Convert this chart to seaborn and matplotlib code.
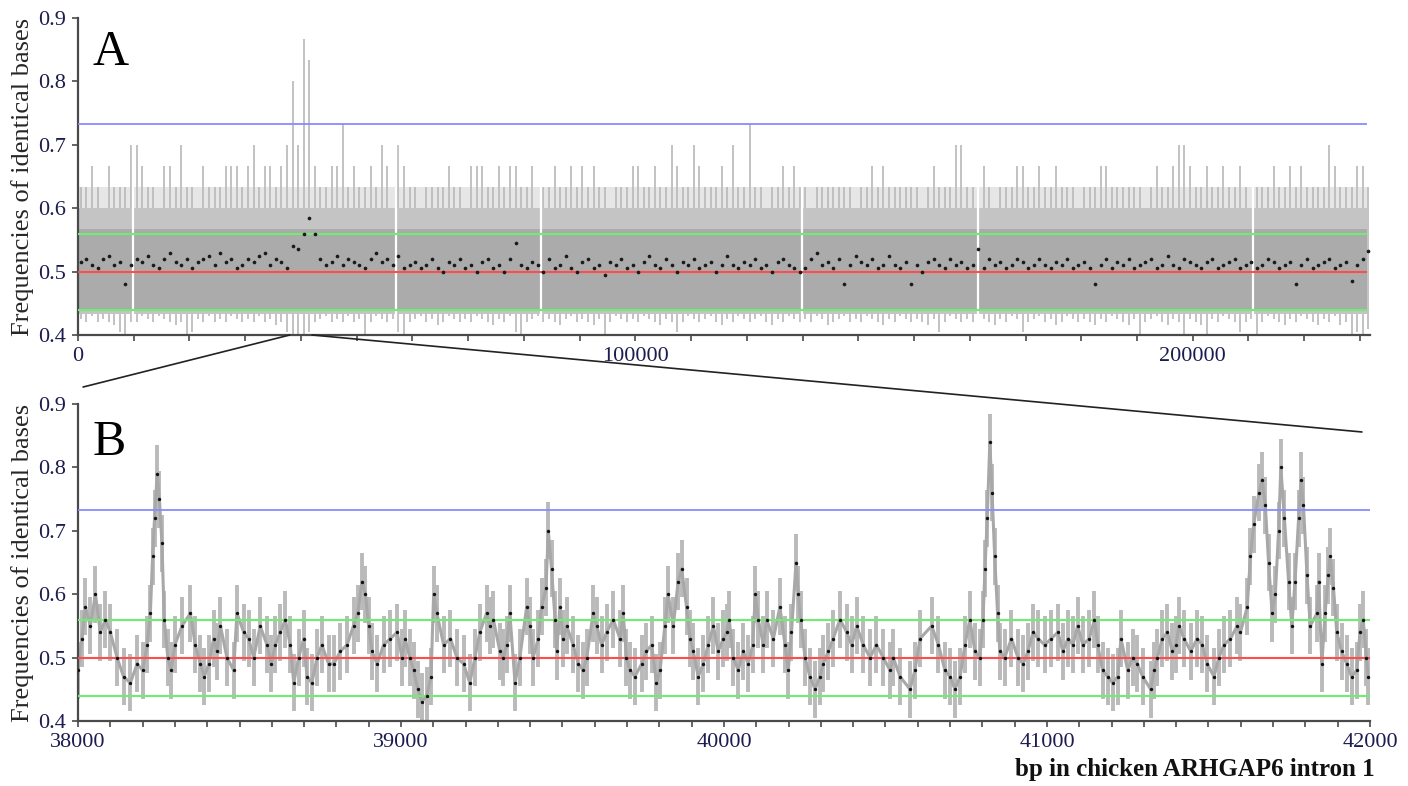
#!/usr/bin/env python3
"""
Frequencies of identical bases along chicken ARHGAP6 intron 1.
Panel A: whole intron in 1 kb bins, panel B: zoom on 38000-42000 bp.
"""

import numpy as np
import matplotlib
matplotlib.use("Agg")
import matplotlib.pyplot as plt
import matplotlib.ticker as mtick
from matplotlib.patches import ConnectionPatch
import seaborn as sns

# ---------------- data ----------------
# reference levels
ref_mean = 0.5
ref_band = [0.44, 0.56]
ref_high = 0.733

# panel A: 1000 bp bins starting at 0
a_start = 0
a_step = 1000
# highest window in each bin, in 30ths
a_hi30 = [19, 19, 20, 19, 18, 20, 19, 19, 19, 21,
          21, 20, 19, 19, 18, 20, 20, 19, 21, 19,
          19, 18, 20, 19, 19, 19, 20, 20, 20, 19,
          20, 21, 19, 20, 20, 19, 20, 21, 24, 21,
          26, 25, 20, 19, 19, 20, 20, 22, 19, 20,
          19, 19, 20, 19, 21, 20, 18, 21, 20, 19,
          19, 18, 19, 19, 19, 19, 20, 19, 19, 18,
          20, 20, 20, 19, 19, 20, 19, 20, 20, 19,
          19, 20, 18, 19, 19, 20, 19, 19, 20, 19,
          20, 19, 20, 19, 19, 18, 19, 19, 19, 20,
          20, 19, 19, 20, 19, 19, 21, 20, 19, 19,
          21, 20, 19, 19, 19, 20, 19, 21, 19, 19,
          22, 19, 19, 18, 19, 19, 20, 19, 20, 19,
          19, 18, 19, 19, 19, 19, 19, 19, 19, 18,
          19, 19, 20, 19, 20, 19, 19, 19, 19, 19,
          19, 18, 19, 20, 19, 19, 19, 21, 21, 19,
          19, 19, 20, 19, 18, 19, 19, 19, 20, 20,
          19, 19, 20, 19, 19, 20, 19, 19, 19, 18,
          19, 19, 19, 20, 20, 19, 19, 19, 19, 19,
          19, 18, 19, 20, 19, 19, 20, 21, 21, 20,
          19, 19, 20, 19, 19, 20, 19, 19, 20, 19,
          18, 19, 19, 19, 20, 19, 19, 20, 19, 20,
          19, 19, 19, 19, 21, 20, 19, 19, 19, 20,
          20, 19]
# lowest window in each bin
a_lo = [.425, .42, .43, .42, .425, .42, .415, .405, .40, .42,
        .42, .43, .425, .42, .43, .425, .42, .415, .42, .40,
        .405, .425, .42, .43, .42, .425, .42, .43, .425, .42,
        .425, .42, .43, .42, .425, .415, .42, .405, .40, .40,
        .40, .405, .42, .425, .43, .42, .425, .42, .43, .42,
        .425, .40, .42, .43, .425, .42, .425, .405, .40, .42,
        .425, .43, .42, .425, .415, .42, .43, .425, .42, .425,
        .42, .43, .425, .42, .415, .425, .42, .43, .405, .40,
        .42, .425, .43, .42, .425, .42, .415, .425, .43, .42,
        .425, .42, .415, .425, .40, .42, .43, .425, .42, .425,
        .42, .43, .425, .42, .415, .425, .42, .405, .42, .43,
        .425, .42, .425, .43, .42, .415, .425, .42, .43, .425,
        .42, .425, .43, .42, .415, .425, .42, .43, .425, .42,
        .425, .42, .43, .425, .415, .42, .425, .43, .42, .425,
        .42, .43, .425, .42, .415, .425, .42, .43, .425, .42,
        .425, .42, .415, .425, .405, .42, .43, .425, .42, .425,
        .42, .43, .425, .42, .415, .425, .42, .43, .425, .405,
        .42, .425, .43, .42, .425, .415, .42, .43, .425, .42,
        .425, .42, .415, .425, .42, .43, .425, .42, .415, .425,
        .40, .42, .425, .43, .42, .415, .425, .42, .40, .425,
        .42, .415, .40, .425, .42, .43, .425, .42, .405, .42,
        .425, .40, .42, .43, .425, .42, .415, .425, .42, .43,
        .425, .42, .415, .425, .42, .43, .415, .42, .40, .405,
        .40, .41]
# mean frequency per bin (black dots)
a_mean = [.515, .52, .51, .505, .52, .525, .51, .515, .48, .51,
          .52, .515, .525, .51, .505, .52, .53, .515, .51, .52,
          .505, .515, .52, .525, .51, .53, .515, .52, .505, .51,
          .52, .515, .525, .53, .51, .52, .515, .505, .54, .535,
          .56, .585, .56, .52, .51, .515, .525, .51, .52, .515,
          .51, .505, .52, .53, .515, .52, .51, .525, .505, .51,
          .515, .505, .51, .52, .505, .50, .515, .51, .52, .505,
          .51, .50, .515, .52, .505, .51, .50, .52, .545, .51,
          .505, .515, .51, .50, .52, .505, .51, .525, .505, .50,
          .515, .52, .505, .51, .495, .515, .51, .52, .505, .51,
          .50, .515, .525, .51, .505, .52, .51, .50, .515, .51,
          .52, .505, .51, .515, .50, .51, .525, .51, .505, .515,
          .51, .52, .505, .51, .50, .515, .52, .51, .505, .50,
          .505, .52, .53, .51, .515, .505, .52, .48, .51, .525,
          .515, .51, .52, .505, .51, .525, .51, .505, .515, .48,
          .51, .50, .515, .52, .51, .505, .52, .51, .515, .505,
          .51, .535, .505, .52, .51, .515, .505, .51, .52, .515,
          .505, .51, .52, .51, .505, .515, .51, .52, .505, .51,
          .515, .505, .48, .51, .52, .505, .515, .51, .52, .505,
          .51, .515, .52, .505, .51, .525, .51, .505, .52, .515,
          .51, .505, .515, .52, .505, .51, .515, .52, .505, .51,
          .515, .505, .51, .52, .515, .505, .51, .515, .48, .51,
          .52, .505, .51, .515, .52, .505, .51, .515, .485, .51,
          .52, .533]
# gaps without data (white stripes)
a_gaps = [9800, 57100, 83000, 129900, 161500, 210800]
# grey density levels of the overlapping windows
a_dense = [0.433, 0.60]
a_core = [0.44, 0.567]
a_light = [0.60, 0.633]
a_end = 231300

# panel B: windows between 38000 and 42000 bp
b_pos = [38000, 38012, 38023, 38038, 38054, 38069, 38085, 38100, 38121, 38141,
         38162, 38183, 38200, 38214, 38224, 38231, 38237, 38245, 38252, 38260,
         38267, 38278, 38288, 38300, 38322, 38348, 38363, 38379, 38391, 38405,
         38420, 38430, 38441, 38461, 38482, 38492, 38513, 38528, 38544, 38564,
         38585, 38598, 38611, 38626, 38642, 38657, 38668, 38683, 38699, 38709,
         38724, 38740, 38755, 38776, 38792, 38812, 38833, 38853, 38866, 38879,
         38890, 38900, 38910, 38926, 38946, 38967, 38988, 39003, 39013, 39027,
         39039, 39052, 39065, 39080, 39093, 39101, 39111, 39132, 39153, 39173,
         39194, 39213, 39229, 39244, 39265, 39275, 39286, 39306, 39317, 39327,
         39337, 39353, 39368, 39389, 39399, 39409, 39425, 39435, 39449, 39456,
         39466, 39477, 39482, 39492, 39502, 39513, 39533, 39549, 39564, 39575,
         39595, 39606, 39621, 39637, 39657, 39678, 39688, 39698, 39709, 39724,
         39745, 39760, 39776, 39791, 39802, 39817, 39827, 39843, 39858, 39869,
         39884, 39895, 39905, 39920, 39936, 39951, 39967, 39982, 39998, 40008,
         40016, 40029, 40044, 40060, 40075, 40089, 40097, 40106, 40122, 40132,
         40153, 40173, 40189, 40199, 40209, 40223, 40230, 40237, 40251, 40266,
         40282, 40297, 40307, 40323, 40338, 40359, 40380, 40395, 40411, 40431,
         40452, 40472, 40493, 40514, 40524, 40545, 40576, 40591, 40607, 40643,
         40664, 40684, 40700, 40715, 40731, 40746, 40761, 40777, 40792, 40802,
         40808, 40815, 40823, 40830, 40838, 40847, 40854, 40869, 40890, 40910,
         40926, 40941, 40957, 40972, 40993, 41013, 41034, 41049, 41065, 41080,
         41095, 41111, 41131, 41147, 41157, 41172, 41188, 41203, 41219, 41229,
         41250, 41265, 41280, 41296, 41321, 41332, 41342, 41357, 41373, 41388,
         41399, 41409, 41424, 41445, 41465, 41481, 41496, 41517, 41532, 41548,
         41568, 41589, 41599, 41620, 41630, 41640, 41656, 41666, 41676, 41686,
         41697, 41707, 41717, 41724, 41735, 41748, 41758, 41768, 41779, 41787,
         41794, 41805, 41815, 41836, 41841, 41851, 41861, 41871, 41876, 41887,
         41897, 41912, 41928, 41943, 41959, 41969, 41979, 41989, 41994]
b_val = [.48, .53, .58, .55, .60, .54, .56, .54, .50, .47,
         .46, .49, .48, .52, .57, .66, .72, .79, .75, .68,
         .56, .50, .48, .52, .55, .57, .52, .49, .47, .49,
         .53, .51, .55, .50, .48, .57, .54, .53, .50, .55,
         .52, .49, .52, .54, .56, .52, .46, .50, .53, .47,
         .46, .50, .52, .49, .49, .51, .52, .55, .57, .62,
         .60, .55, .51, .49, .52, .53, .54, .50, .53, .50,
         .48, .45, .43, .44, .47, .60, .57, .52, .53, .50,
         .49, .46, .50, .54, .57, .55, .56, .51, .50, .52,
         .57, .46, .50, .58, .55, .50, .53, .58, .61, .70,
         .64, .56, .51, .58, .53, .55, .52, .49, .48, .50,
         .57, .55, .52, .54, .56, .53, .57, .50, .48, .47,
         .49, .51, .52, .46, .48, .55, .60, .55, .62, .64,
         .58, .53, .51, .47, .49, .52, .55, .51, .53, .54,
         .56, .50, .48, .51, .49, .52, .60, .56, .52, .56,
         .53, .58, .52, .48, .54, .65, .60, .56, .50, .47,
         .45, .47, .49, .51, .53, .56, .54, .52, .55, .52,
         .50, .52, .50, .48, .50, .47, .45, .48, .53, .55,
         .52, .48, .47, .45, .47, .52, .56, .51, .50, .56,
         .64, .72, .84, .76, .66, .57, .51, .50, .53, .50,
         .49, .51, .54, .53, .52, .53, .54, .51, .53, .52,
         .55, .52, .53, .56, .52, .48, .47, .46, .47, .53,
         .48, .50, .49, .47, .45, .48, .50, .53, .54, .51,
         .52, .55, .53, .51, .53, .52, .49, .47, .50, .52,
         .53, .55, .54, .58, .66, .71, .76, .78, .74, .65,
         .57, .60, .70, .80, .72, .62, .55, .62, .72, .78,
         .74, .63, .55, .57, .62, .49, .57, .63, .66, .61,
         .54, .51, .49, .47, .48, .54, .56, .50, .47]
b_ci = 0.045  # half length of the grey window bars

y_label = "Frequencies of identical bases"
x_label_b = "bp in chicken ARHGAP6 intron 1"
a_ticks = [0, 100000, 200000]
b_ticks = [38000, 39000, 40000, 41000, 42000]
y_ticks = [0.4, 0.5, 0.6, 0.7, 0.8, 0.9]

# ---------------- style ----------------
sns.set_style("ticks")
plt.rcParams["font.family"] = ["Liberation Serif", "DejaVu Serif"]

spine_col = "#4a4a4a"
tick_col = "#1c1c50"
col_blue = "#8a8aff"
col_green = "#70ec70"
col_red = "#ff4c4c"


def style_axis(ax, xlim, xticks, minor_step):
    ax.set_ylim(0.4, 0.9)
    ax.set_xlim(*xlim)
    ax.set_yticks(y_ticks)
    ax.set_yticklabels([f"{t:.1f}" for t in y_ticks])
    ax.set_xticks(xticks)
    ax.set_xticklabels([str(t) for t in xticks])
    ax.xaxis.set_minor_locator(mtick.MultipleLocator(minor_step))
    ax.tick_params(axis="both", which="major", direction="out", length=4.5,
                   width=1.2, color=spine_col, labelsize=16, labelcolor=tick_col,
                   pad=4)
    ax.tick_params(axis="x", which="minor", direction="out", length=4.5,
                   width=1.2, color=spine_col)
    for s in ["left", "bottom"]:
        ax.spines[s].set_color(spine_col)
        ax.spines[s].set_linewidth(1.6)
    sns.despine(ax=ax)
    ax.set_ylabel(y_label, fontsize=19)
    ax.yaxis.set_label_coords(-0.034, 0.5)
    ax.set_xlabel("")


fig = plt.figure(figsize=(14.08, 7.86), dpi=100)
axA = fig.add_axes([0.0554, 0.5738, 0.9176, 0.4033])
axB = fig.add_axes([0.0554, 0.0827, 0.9176, 0.4033])

# ---------------- panel A ----------------
a_pos = a_start + a_step * (np.arange(len(a_hi30)) + 0.5)
a_hi = np.array(a_hi30) / 30.0
x_span = [a_start, a_end]

axA.fill_between(x_span, a_light[0], a_light[1], color="#e6e6e6", lw=0, zorder=1)
axA.vlines(a_pos, a_lo, a_hi, color="#bdbdbd", lw=1.3, zorder=1.5)
axA.fill_between(x_span, a_dense[0], a_dense[1], color="#c4c4c4", lw=0, zorder=2)
axA.fill_between(x_span, a_core[0], a_core[1], color="#ababab", lw=0, zorder=2.1)
axA.vlines(a_gaps, 0.403, 0.72, color="white", lw=1.6, zorder=2.2)

axA.hlines(ref_band, a_start, a_end, color=col_green, lw=1.5, zorder=3)
axA.hlines(ref_high, a_start, a_end, color=col_blue, lw=1.3, zorder=3)
sns.scatterplot(x=a_pos, y=a_mean, ax=axA, color="#1a1a1a", s=7,
                linewidth=0, zorder=4)
axA.hlines(ref_mean, a_start, a_end, color=col_red, lw=1.5, zorder=3.5)

style_axis(axA, (0, 231800), a_ticks, 10000)
axA.text(0.011, 0.965, "A", transform=axA.transAxes, fontsize=36,
         ha="left", va="top", color="black")

# ---------------- panel B ----------------
b_v = np.array(b_val)
axB.vlines(b_pos, b_v - b_ci, b_v + b_ci, color="#bababa", lw=2.8, zorder=1)
sns.lineplot(x=b_pos, y=b_val, ax=axB, color="#a8a8a8", lw=2.2,
             estimator=None, sort=False, zorder=1.5)
axB.axhline(ref_band[0], color=col_green, lw=1.5, zorder=3)
axB.axhline(ref_band[1], color=col_green, lw=1.5, zorder=3)
axB.axhline(ref_high, color=col_blue, lw=1.3, zorder=3)
axB.axhline(ref_mean, color=col_red, lw=1.5, zorder=3)
sns.scatterplot(x=b_pos, y=b_val, ax=axB, color="#111111", s=6,
                linewidth=0, zorder=4)

style_axis(axB, (38000, 42000), b_ticks, 100)
axB.text(0.011, 0.95, "B", transform=axB.transAxes, fontsize=36,
         ha="left", va="top", color="black")

fig.text(0.9766, 0.0127, x_label_b, fontsize=18, fontweight="bold",
         ha="right", va="baseline", color="#111111")

# zoom connectors from panel A to panel B
for x_a, xy_fig in [(b_ticks[0], (0.059, 0.5076)), (b_ticks[-1], (0.9673, 0.4504))]:
    con = ConnectionPatch(xyA=(x_a, 0.4), coordsA=axA.transData,
                          xyB=xy_fig, coordsB=fig.transFigure,
                          color="#222222", lw=1.2)
    fig.add_artist(con)

fig.savefig("out.png", dpi=100)
plt.close(fig)
